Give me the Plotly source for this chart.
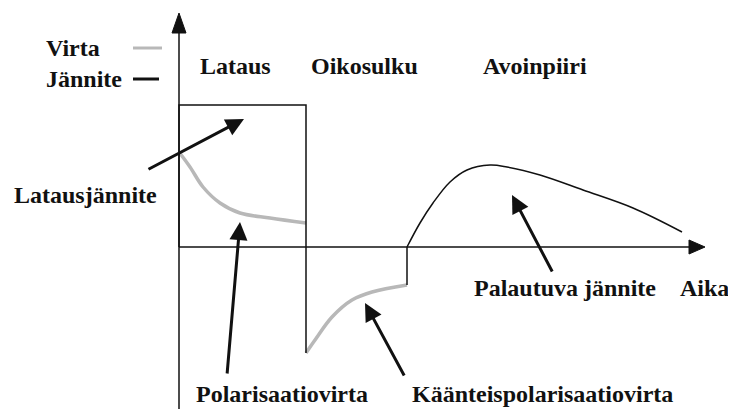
import plotly.graph_objects as go

# ---- data (time t, amplitude v; arbitrary units) ----
# Charging voltage (Lataus)
volt_charge_t = [0.0, 0.0, 12.7, 12.7]
volt_charge_v = [0.0, 14.2, 14.2, 0.0]
# Recovery voltage (Avoinpiiri)
volt_rec_t = [22.8, 24.1, 25.4, 27.1, 28.8, 31.1, 32.8, 36.1, 40.4, 45.4, 50.3]
volt_rec_v = [0.0, 2.4, 4.4, 6.5, 7.7, 8.2, 8.0, 7.2, 5.7, 3.9, 1.5]
# Polarisation current
cur_pol_t = [0.0, 1.1, 2.4, 4.1, 6.1, 9.1, 12.7]
cur_pol_v = [9.5, 8.0, 6.0, 4.4, 3.4, 2.9, 2.4]
# Depolarisation current
cur_dep_t = [12.7, 13.6, 15.3, 17.3, 19.3, 22.8]
cur_dep_v = [-10.6, -9.3, -7.0, -5.3, -4.5, -3.8]

# phase labels
phase_labels = ["Lataus", "Oikosulku", "Avoinpiiri"]
phase_t = [5.6, 18.5, 35.6]

# axis extents (the page body has an 8px margin, so the view starts 8px in)
X_MIN, X_MAX = -17.1, 55.7
Y_MIN, Y_MAX = -16.2, 23.9
X_ARROW_TIP = 52.6
Y_ARROW_TIP = 23.4

BLACK = "#111111"
GRAY = "#b8b8b8"
FONT = dict(family="Liberation Serif, Times New Roman, DejaVu Serif, serif",
            size=24, color="#111111")

fig = go.Figure()

# current (gray)
fig.add_trace(go.Scatter(x=cur_pol_t, y=cur_pol_v, mode="lines",
                         line=dict(color=GRAY, width=3.5, shape="spline"), hoverinfo="skip"))
fig.add_trace(go.Scatter(x=cur_dep_t, y=cur_dep_v, mode="lines",
                         line=dict(color=GRAY, width=3.5, shape="spline"), hoverinfo="skip"))

# current step edges drawn in black
step_t = [cur_dep_t[0], cur_dep_t[0], None, cur_dep_t[-1], cur_dep_t[-1]]
step_v = [0.0, cur_dep_v[0], None, 0.0, cur_dep_v[-1]]
fig.add_trace(go.Scatter(x=step_t, y=step_v, mode="lines",
                         line=dict(color=BLACK, width=1.5), hoverinfo="skip"))

# voltage (black)
fig.add_trace(go.Scatter(x=volt_charge_t, y=volt_charge_v, mode="lines",
                         line=dict(color=BLACK, width=1.5), hoverinfo="skip"))
fig.add_trace(go.Scatter(x=volt_rec_t, y=volt_rec_v, mode="lines",
                         line=dict(color=BLACK, width=1.5, shape="spline"), hoverinfo="skip"))

# axes drawn as lines with arrow heads
fig.add_shape(type="line", x0=0, x1=0, y0=Y_MIN, y1=Y_ARROW_TIP - 1.0,
              line=dict(color=BLACK, width=1.5))
fig.add_shape(type="line", x0=0, x1=X_ARROW_TIP - 1.0, y0=0, y1=0,
              line=dict(color=BLACK, width=1.5))
fig.add_shape(type="path",
              path=f"M {-0.7},{Y_ARROW_TIP-2.0} L 0,{Y_ARROW_TIP} L {0.7},{Y_ARROW_TIP-2.0} Z",
              fillcolor=BLACK, line=dict(color=BLACK, width=1))
fig.add_shape(type="path",
              path=f"M {X_ARROW_TIP-1.6},{-0.7} L {X_ARROW_TIP},0 L {X_ARROW_TIP-1.6},{0.7} Z",
              fillcolor=BLACK, line=dict(color=BLACK, width=1))

# legend-like keys
fig.add_trace(go.Scatter(x=[-4.6, -1.7], y=[19.9, 19.9], mode="lines",
                         line=dict(color=GRAY, width=3), hoverinfo="skip"))
fig.add_trace(go.Scatter(x=[-4.6, -2.0], y=[16.8, 16.8], mode="lines",
                         line=dict(color=BLACK, width=3), hoverinfo="skip"))

texts = [
    ("Virta", -10.6, 19.9, "center"),
    ("Jännite", -9.5, 16.8, "center"),
    ("Latausjännite", -9.4, 5.2, "center"),
    ("Polarisaatiovirta", 10.3, -14.7, "center"),
    ("Käänteispolarisaatiovirta", 36.3, -14.7, "center"),
    ("Palautuva jännite", 38.6, -4.1, "center"),
    ("Aika", 55.2, -4.1, "right"),
]
for lbl, t in zip(phase_labels, phase_t):
    texts.append((lbl, t, 18.1, "center"))
for txt, x, y, anc in texts:
    fig.add_annotation(x=x, y=y, text=f"<b>{txt}</b>", showarrow=False, font=FONT,
                       xanchor=anc, yanchor="middle")

# pointer arrows: (tail_t, tail_v, head_t, head_v)
pointers = [
    (-3.2, 7.7, 6.5, 12.8),
    (4.8, -12.8, 6.1, 2.5),
    (22.6, -13.0, 18.6, -5.6),
    (37.4, -2.6, 33.3, 5.2),
]
for tx, ty, hx, hy in pointers:
    fig.add_annotation(x=hx, y=hy, ax=tx, ay=ty, axref="x", ayref="y",
                       xref="x", yref="y", text="", showarrow=True,
                       arrowhead=2, arrowsize=1.2, arrowwidth=3, arrowcolor=BLACK,
                       standoff=0)

fig.update_layout(
    width=728, height=401, autosize=False,
    margin=dict(l=0, r=0, t=0, b=0),
    paper_bgcolor="white", plot_bgcolor="white",
    showlegend=False,
    xaxis=dict(range=[X_MIN, X_MAX], visible=False, fixedrange=True),
    yaxis=dict(range=[Y_MIN, Y_MAX], visible=False, fixedrange=True),
)

fig.write_html("out.html", config={"displayModeBar": False})
